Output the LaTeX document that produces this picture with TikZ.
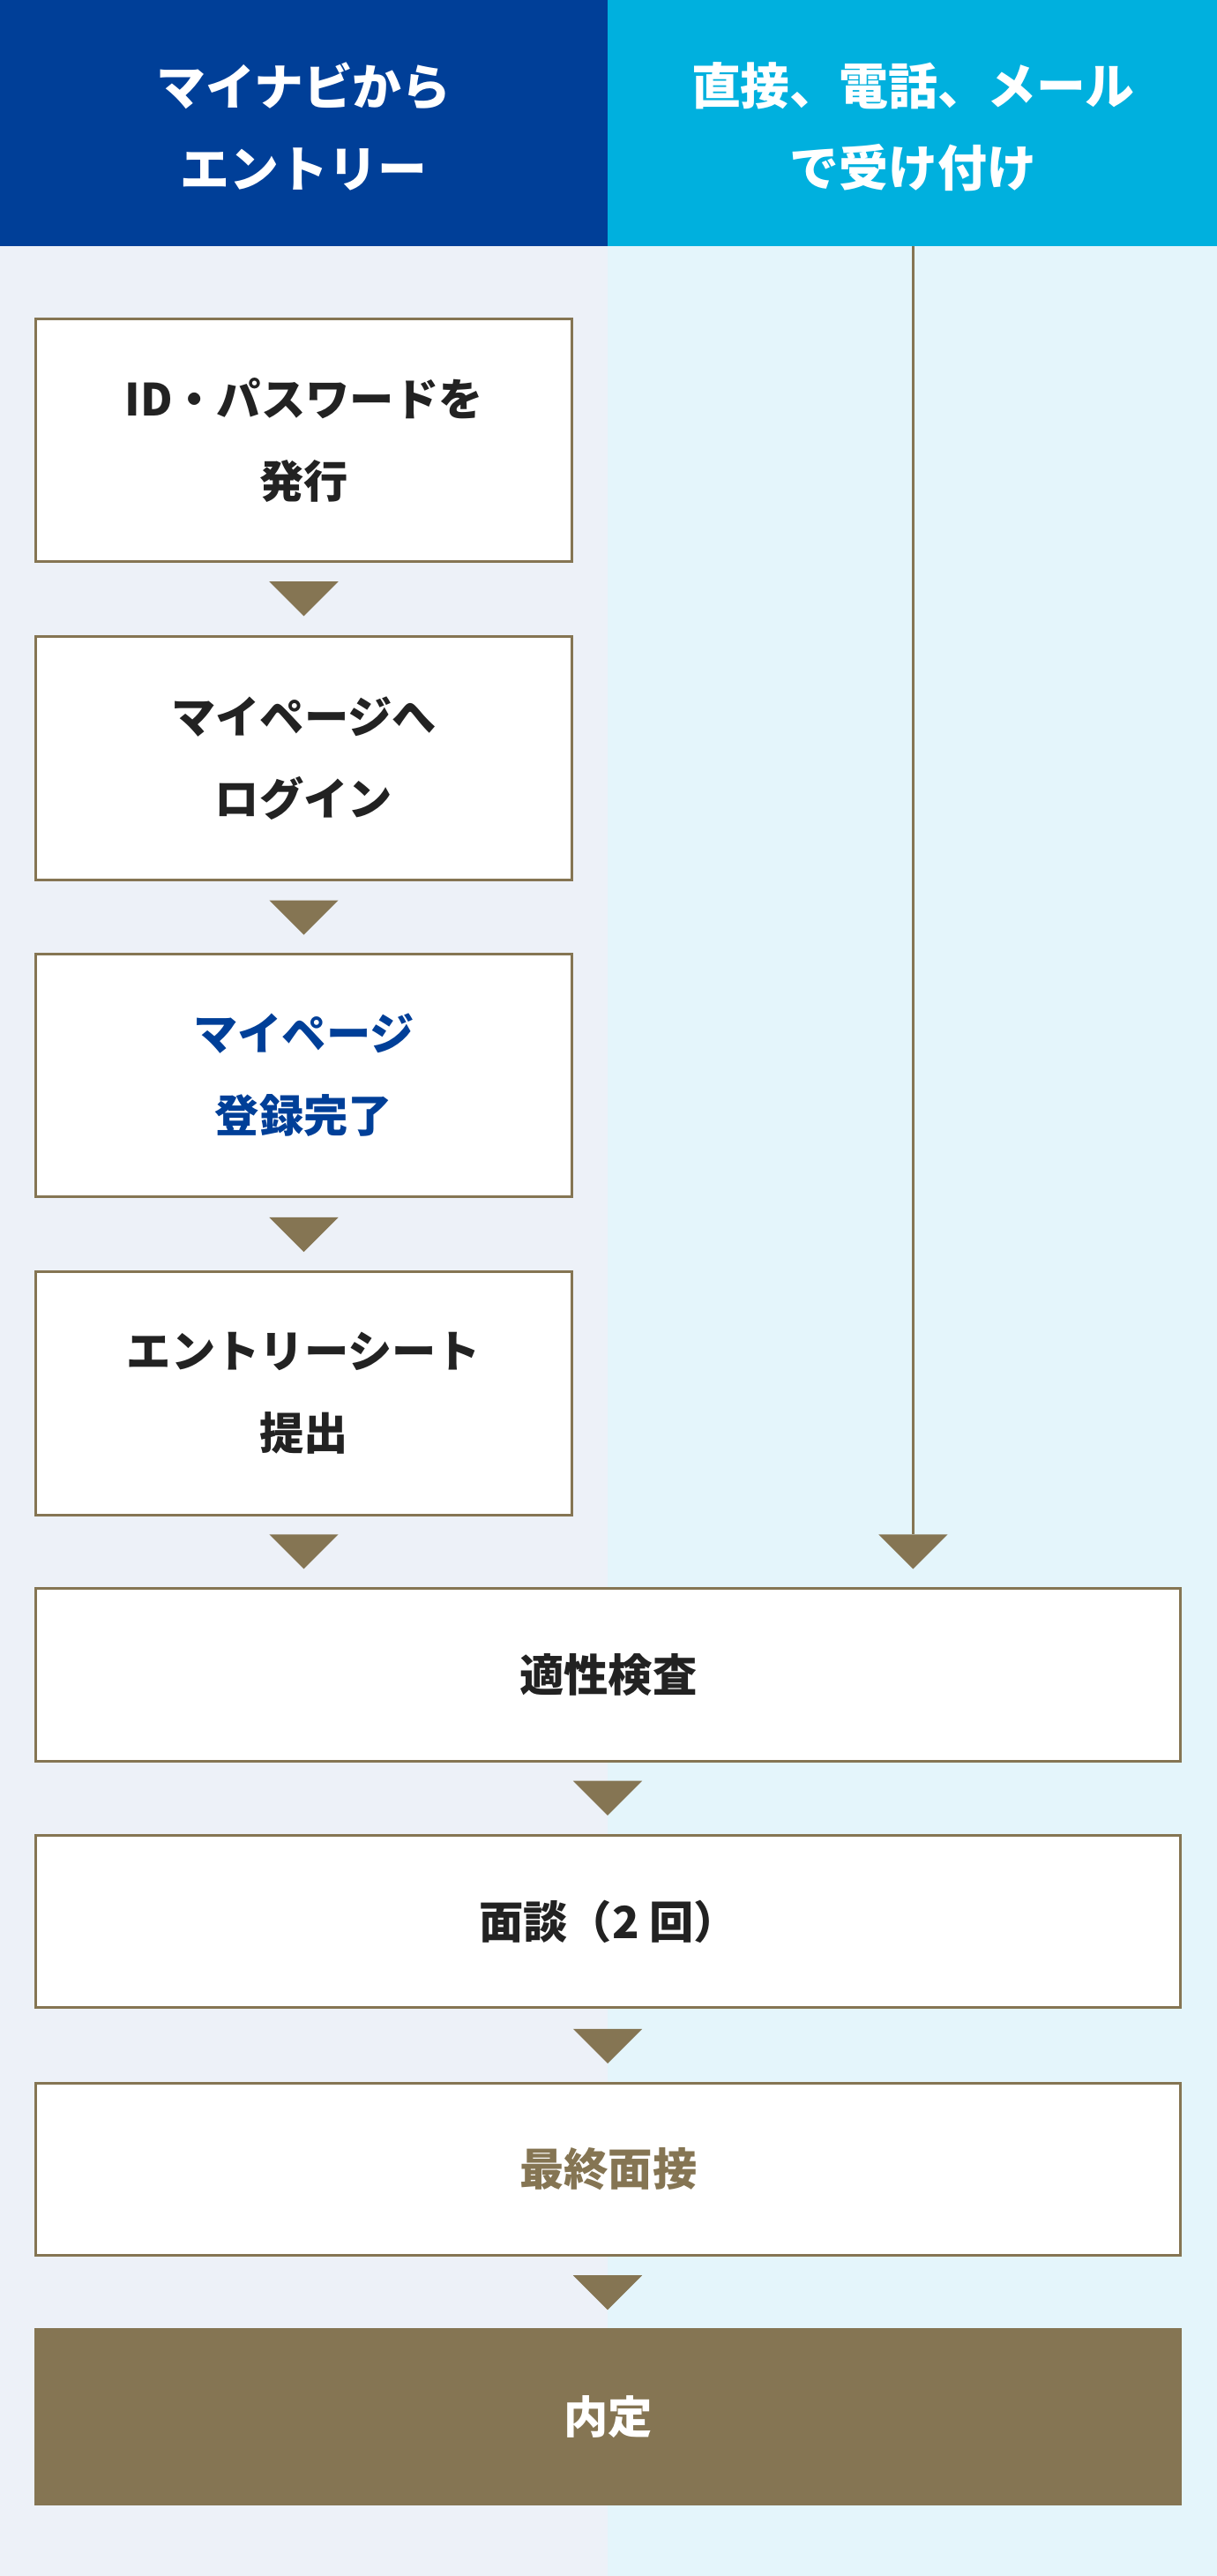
\documentclass[tikz,border=0pt]{standalone}
\usepackage{fontspec}
\setmainfont{Noto Sans CJK JP}
\definecolor{hdrA}{HTML}{003F98}
\definecolor{hdrB}{HTML}{00B0DE}
\definecolor{bgA}{HTML}{EDF1F8}
\definecolor{bgB}{HTML}{E4F5FB}
\definecolor{brn}{HTML}{857553}
\definecolor{txt}{HTML}{222222}
\begin{document}
\begin{tikzpicture}[x=1pt,y=-1pt,
  hdr/.style={font=\bfseries\fontsize{30}{50}\selectfont,text=white,align=center},
  stepbox/.style={draw=brn,line width=1.6pt,fill=white,font=\bfseries\fontsize{27}{50}\selectfont,text=txt,align=center,inner sep=0pt},
  smallbox/.style={stepbox,minimum width=326pt,minimum height=148pt},
  widebox/.style={stepbox,minimum width=697pt,minimum height=105pt},
  tri/.style={fill=brn}]
\useasboundingbox (0,0) rectangle (741,1568);
\fill[bgA] (0,150) rectangle (370,1568);
\fill[bgB] (370,150) rectangle (741,1568);
\fill[hdrA] (0,0) rectangle (370,150);
\fill[hdrB] (370,0) rectangle (741,150);
\node[hdr] (h1) at (185,77) {マイナビから\\エントリー};
\node[hdr] (h2) at (556,77) {直接、電話、メール\\で受け付け};
\node[smallbox] (b1) at (185,268) {ID・パスワードを\\発行};
\node[smallbox] (b2) at (185,461.5) {マイページへ\\ログイン};
\node[smallbox,text=hdrA] (b3) at (185,654.5) {マイページ\\登録完了};
\node[smallbox] (b4) at (185,848) {エントリーシート\\提出};
\node[widebox] (w1) at (370.5,1019.5) {適性検査};
\node[widebox] (w2) at (370.5,1169.5) {面談（2 回）};
\node[widebox,text=brn] (w3) at (370.5,1320.5) {最終面接};
\node[widebox,fill=brn,minimum height=106pt,text=white] (w4) at (370.5,1471) {内定};
\coordinate (top) at (556,150);
\coordinate (tr) at (556,934);
\draw[brn,line width=1.6pt] (top) -- (tr);
\foreach \cx/\cy in {185/354,185/548,185/741,185/934,556/934,370/1084,370/1235,370/1385}
  \fill[tri] (\cx-21,\cy) -- (\cx+21,\cy) -- (\cx,\cy+21) -- cycle;
\end{tikzpicture}
\end{document}
